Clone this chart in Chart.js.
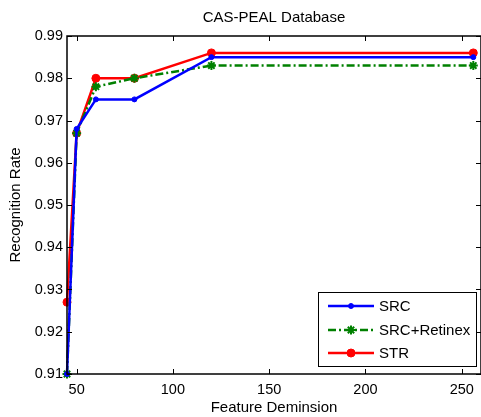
<!DOCTYPE html>
<html><head><meta charset="utf-8">
<script src="https://cdn.jsdelivr.net/npm/chart.js@4/dist/chart.umd.min.js"></script>
<style>html,body{margin:0;padding:0;background:#fff}#wrap{width:481px;height:417px}</style>
</head><body><div id="wrap"><canvas id="c" width="481" height="417"></canvas></div>
<script>
const featureDims = [45, 50, 60, 80, 120, 256];
const srcValues = [0.910, 0.968, 0.975, 0.975, 0.985, 0.985];
const retinexValues = [0.910, 0.967, 0.978, 0.980, 0.983, 0.983];
const strValues = [0.927, 0.967, 0.980, 0.980, 0.986, 0.986];
const xTickValues = [50, 100, 150, 200, 250];
const yTickValues = [0.91, 0.92, 0.93, 0.94, 0.95, 0.96, 0.97, 0.98, 0.99];
const seriesNames = ['SRC', 'SRC+Retinex', 'STR'];

const FONT = 'Liberation Sans, Arial, Helvetica, sans-serif';
const toPts = (ys) => featureDims.map((x, i) => ({x, y: ys[i]}));

const frame = {
  id: 'frame',
  afterDatasetsDraw(chart) {
    const {ctx, chartArea: a, scales: {x, y}} = chart;
    ctx.save();
    ctx.strokeStyle = '#000';
    ctx.lineWidth = 1.5;
    ctx.strokeRect(a.left, a.top, a.right - a.left, a.bottom - a.top);
    ctx.lineWidth = 1;
    const L = 5;
    ctx.beginPath();
    xTickValues.forEach(v => {
      const px = Math.round(x.getPixelForValue(v)) + 0.5;
      ctx.moveTo(px, a.bottom); ctx.lineTo(px, a.bottom - L);
      ctx.moveTo(px, a.top); ctx.lineTo(px, a.top + L);
    });
    yTickValues.forEach(v => {
      const py = Math.round(y.getPixelForValue(v)) + 0.5;
      ctx.moveTo(a.left, py); ctx.lineTo(a.left + L, py);
      ctx.moveTo(a.right, py); ctx.lineTo(a.right - L, py);
    });
    ctx.stroke();
    ctx.restore();
  },
  afterDraw(chart) {
    const {ctx} = chart;
    const bx = 318, by = 292, bw = 158, bh = 74;
    ctx.save();
    ctx.fillStyle = '#fff';
    ctx.fillRect(bx, by, bw, bh);
    ctx.strokeStyle = '#000';
    ctx.lineWidth = 1;
    ctx.strokeRect(bx + 0.5, by + 0.5, bw, bh);
    const rows = [306, 330, 353];
    chart.data.datasets.forEach((ds, i) => {
      const yy = rows[i];
      ctx.strokeStyle = ds.borderColor;
      ctx.lineWidth = ds.borderWidth;
      ctx.setLineDash(ds.borderDash || []);
      ctx.beginPath(); ctx.moveTo(328, yy); ctx.lineTo(374, yy); ctx.stroke();
      ctx.setLineDash([]);
      ctx.fillStyle = ds.pointBackgroundColor;
      ctx.strokeStyle = ds.pointBorderColor;
      ctx.lineWidth = ds.pointBorderWidth;
      Chart.helpers.drawPoint(ctx, {
        pointStyle: ds.pointStyle, radius: ds.pointRadius, borderWidth: ds.pointBorderWidth, rotation: 0
      }, 351, yy);
      ctx.fillStyle = '#000';
      ctx.font = '15px ' + FONT;
      ctx.textBaseline = 'middle';
      ctx.textAlign = 'left';
      ctx.fillText(ds.label, 379, yy + 1);
    });
    ctx.restore();
  }
};

new Chart(document.getElementById('c'), {
  type: 'line',
  data: {
    datasets: [
      {label: seriesNames[0], data: toPts(srcValues), borderColor: '#0000ff', backgroundColor: '#0000ff',
       pointBackgroundColor: '#0000ff', pointBorderColor: '#0000ff',
       borderWidth: 2.5, pointRadius: 2.5, pointBorderWidth: 1, pointStyle: 'circle', clip: 10},
      {label: seriesNames[1], data: toPts(retinexValues), borderColor: '#008000', backgroundColor: '#008000',
       pointBackgroundColor: '#008000', pointBorderColor: '#008000',
       borderWidth: 2.5, borderDash: [8, 3, 2, 3], pointRadius: 4.5, pointBorderWidth: 2, pointStyle: 'star', clip: 10},
      {label: seriesNames[2], data: toPts(strValues), borderColor: '#ff0000', backgroundColor: '#ff0000',
       pointBackgroundColor: '#ff0000', pointBorderColor: '#ff0000',
       borderWidth: 2.5, pointRadius: 4, pointBorderWidth: 1, pointStyle: 'circle', clip: 10}
    ]
  },
  options: {
    responsive: false,
    animation: false,
    devicePixelRatio: 1,
    layout: {autoPadding: false, padding: {left: 0, right: -2, top: 0, bottom: 0}},
    elements: {line: {tension: 0}},
    plugins: {
      legend: {display: false},
      tooltip: {enabled: false},
      title: {display: true, fullSize: false, text: 'CAS-PEAL Database', color: '#000',
        font: {family: FONT, size: 15, weight: 'normal'}, padding: {top: 9, bottom: 9}}
    },
    scales: {
      x: {
        type: 'linear', min: 45, max: 260,
        afterBuildTicks: s => { s.ticks = xTickValues.map(v => ({value: v})); },
        afterFit: s => { s.height = 43; s.paddingLeft = 0; s.paddingRight = 0; },
        grid: {display: false, drawTicks: false},
        border: {display: false},
        ticks: {color: '#000', font: {family: FONT, size: 14.5}, padding: 7, maxRotation: 0, autoSkip: false,
          callback: v => String(v)},
        title: {display: true, text: 'Feature Deminsion', color: '#000',
          font: {family: FONT, size: 15}, padding: {top: 0, bottom: 0}}
      },
      y: {
        type: 'linear', min: 0.91, max: 0.99,
        afterBuildTicks: s => { s.ticks = yTickValues.map(v => ({value: v})); },
        afterFit: s => { s.width = 67; s.paddingTop = 0; s.paddingBottom = 0; },
        grid: {display: false, drawTicks: false},
        border: {display: false},
        ticks: {color: '#000', font: {family: FONT, size: 14.5}, padding: 4, autoSkip: false,
          callback: v => Number(v).toFixed(2)},
        title: {display: true, text: 'Recognition Rate', color: '#000',
          font: {family: FONT, size: 15}, padding: {top: 7, bottom: 0}}
      }
    }
  },
  plugins: [frame]
});
</script></body></html>
